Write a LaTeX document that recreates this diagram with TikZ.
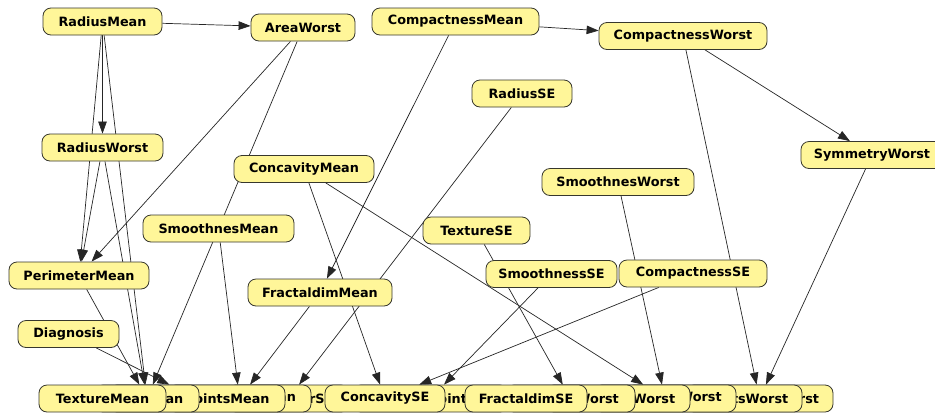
\documentclass[tikz,border=0pt]{standalone}
\usepackage{fontspec}
\setmainfont{DejaVu Sans}
\usetikzlibrary{arrows.meta,backgrounds}
\definecolor{nodefill}{RGB}{255,246,153}
\definecolor{nodeline}{RGB}{55,55,45}
\begin{document}
\begin{tikzpicture}[x=1pt,y=-1pt,
  var/.style={draw=nodeline, line width=0.8pt, fill=nodefill, rounded corners=8pt,
    minimum height=27pt, inner sep=0pt, font=\bfseries\fontsize{12.8}{14}\selectfont},
  link/.style={-{Triangle[length=12pt,width=8.5pt]}, line width=0.7pt, black!85}]
\useasboundingbox (0,0) rectangle (935,416);

% upper variables
\node[var, minimum width=119pt] (rm)   at (102.5,21.5)  {RadiusMean};
\node[var, minimum width=104pt] (aw)   at (303,27.5)    {AreaWorst};
\node[var, minimum width=167pt] (cm)   at (455.5,21.5)  {CompactnessMean};
\node[var, minimum width=168pt] (cw)   at (683,36)      {CompactnessWorst};
\node[var, minimum width=100pt] (rse)  at (522,93.5)    {RadiusSE};
\node[var, minimum width=142pt] (syw)  at (872,155)     {SymmetryWorst};
\node[var, minimum width=152pt] (smw)  at (618,182)     {SmoothnesWorst};
\node[var, minimum width=121pt] (rw)   at (102.5,147.5) {RadiusWorst};
\node[var, minimum width=140pt] (cvm)  at (304,169)     {ConcavityMean};
\node[var, minimum width=151pt] (smm)  at (218.5,228.5) {SmoothnesMean};
\node[var, minimum width=140pt] (pm)   at (79,275.5)    {PerimeterMean};
\node[var, minimum width=101pt] (dg)   at (68.5,334)    {Diagnosis};
\node[var, minimum width=144pt] (fdm)  at (320,292.5)   {FractaldimMean};
\node[var, minimum width=107pt] (tse)  at (476.5,230.5) {TextureSE};
\node[var, minimum width=131pt] (smse) at (551.5,274)   {SmoothnessSE};
\node[var, minimum width=148pt] (cse)  at (693,273.5)   {CompactnessSE};

% bottom row, stacked from back to front
\node[var, minimum width=147pt] (fdw)  at (759.5,398.5) {FractaldimWorst};
\node[var, minimum width=176pt] (cpw)  at (714,398.5)   {ConcavePointsWorst};
\node[var, minimum width=142pt] (cvw)  at (665,398.5)   {ConcavityWorst};
\node[var, minimum width=144pt] (pw)   at (618,398.5)   {PerimeterWorst};
\node[var, minimum width=129pt] (tw)   at (570.5,398.5) {TextureWorst};
\node[var, minimum width=155pt] (cpse) at (430.5,398.5) {ConcavePointsSE};
\node[var, minimum width=121pt] (pse)  at (288.5,398.5) {PerimeterSE};
\node[var, minimum width=143pt] (sym)  at (239.5,398.5) {SymmetryMean};
\node[var, minimum width=176pt] (cpm)  at (197,398.5)   {ConcavePointsMean};
\node[var, minimum width=104pt] (am)   at (147,398.5)   {AreaMean};
\node[var, minimum width=127pt] (tm)   at (102.5,398.5) {TextureMean};
\node[var, minimum width=120pt] (cvse) at (385,398.5)   {ConcavitySE};
\node[var, minimum width=122pt] (fdse) at (526,398.5)   {FractaldimSE};

\begin{pgfonlayer}{background}
\fill[white] (0,0) rectangle (935,416);
\draw[link] (rm) -- (aw);
\draw[link] (rm) -- (rw);
\draw[link] (rm) -- (pm);
\draw[link] (rm) -- (am);
\draw[link] (rw) -- (pm);
\draw[link] (rw) -- (am);
\draw[link] (aw) -- (pm);
\draw[link] (aw) -- (am);
\draw[link] (pm) -- (am);
\draw[link] (dg) -- (cpm);
\draw[link] (smm) -- (sym);
\draw[link] (fdm) -- (sym);
\draw[link] (cm) -- (fdm);
\draw[link] (cm) -- (cw);
\draw[link] (cw) -- (syw);
\draw[link] (cw) -- (fdw);
\draw[link] (syw) -- (fdw);
\draw[link] (rse) -- (pse);
\draw[link] (cvm) -- (cvse);
\draw[link] (cvm) -- (cvw);
\draw[link] (smw) -- (cvw);
\draw[link] (tse) -- (tw);
\draw[link] (smse) -- (cpse);
\draw[link] (cse) -- (cvse);
\end{pgfonlayer}
\end{tikzpicture}
\end{document}
